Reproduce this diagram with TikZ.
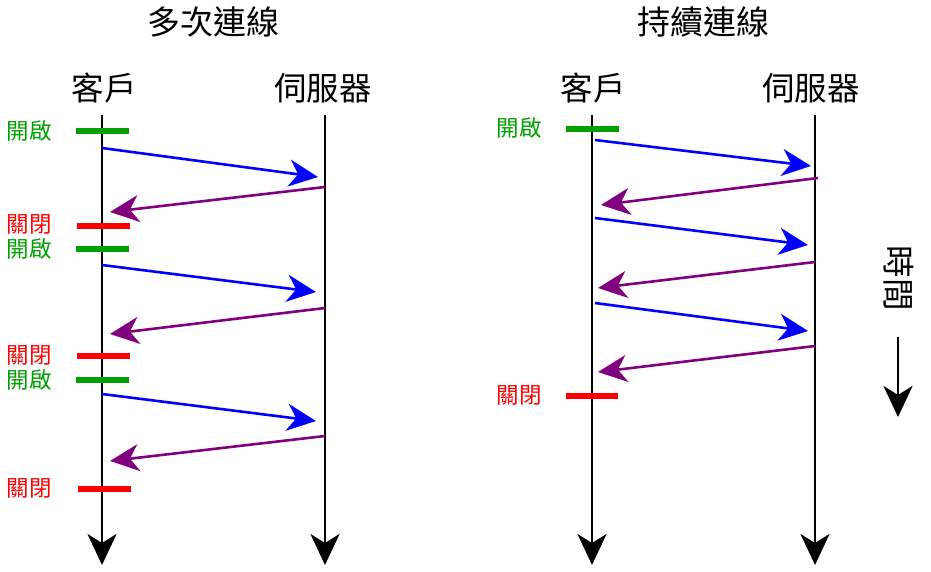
\documentclass[tikz,border=0pt]{standalone}
\usepackage{fontspec}
\newfontfamily\cjk{Noto Sans CJK TC}
\usetikzlibrary{arrows.meta}
\definecolor{ogreen}{RGB}{0,160,0}
\definecolor{opurple}{RGB}{128,0,128}
\tikzset{
  lifeline/.style={line width=2.8pt,-{Stealth[length=31pt,width=29pt,inset=9pt]}},
  msgreq/.style={blue,line width=2.6pt,-{Stealth[length=29pt,width=27pt,inset=9pt]}},
  msgresp/.style={opurple,line width=2.6pt,-{Stealth[length=29pt,width=27pt,inset=9pt]}},
  openbar/.style={ogreen,line width=5.5pt},
  closebar/.style={red,line width=5.5pt},
  titlelbl/.style={font=\cjk\fontsize{33}{33}\selectfont,inner sep=0pt},
  partlbl/.style={font=\cjk\fontsize{32.5}{33}\selectfont,inner sep=0pt},
  openlbl/.style={font=\cjk\fontsize{22.5}{22}\selectfont,text=ogreen,inner sep=0pt},
  closelbl/.style={font=\cjk\fontsize{22.5}{22}\selectfont,text=red,inner sep=0pt},
}
\begin{document}
\begin{tikzpicture}[x=1pt,y=-1pt]
\useasboundingbox[fill=white] (0,0) rectangle (931,572);
% ===== left panel =====
\node[titlelbl] (t1) at (213,22) {多次連線};
\node[partlbl] (c1) at (104,88) {客戶};
\node[partlbl] (s1) at (323,88) {伺服器};
\coordinate (c1top) at (102,115); \coordinate (c1bot) at (102,565);
\coordinate (s1top) at (325,115); \coordinate (s1bot) at (325,565);
\draw[lifeline] (c1top) -- (c1bot);
\draw[lifeline] (s1top) -- (s1bot);
% bars
\coordinate (o1a) at (76,131); \coordinate (o1b) at (129,131);
\coordinate (x1a) at (77,226); \coordinate (x1b) at (130,226);
\coordinate (o2a) at (76,249); \coordinate (o2b) at (129,249);
\coordinate (x2a) at (77,356); \coordinate (x2b) at (130,356);
\coordinate (o3a) at (76,380); \coordinate (o3b) at (129,380);
\coordinate (x3a) at (78,489); \coordinate (x3b) at (131,489);
\draw[openbar] (o1a) -- (o1b);
\draw[closebar] (x1a) -- (x1b);
\draw[openbar] (o2a) -- (o2b);
\draw[closebar] (x2a) -- (x2b);
\draw[openbar] (o3a) -- (o3b);
\draw[closebar] (x3a) -- (x3b);
\node[openlbl] (lo1) at (29,131) {開啟};
\node[closelbl] (lx1) at (29,224) {關閉};
\node[openlbl] (lo2) at (29,249) {開啟};
\node[closelbl] (lx2) at (29,355) {關閉};
\node[openlbl] (lo3) at (29,380) {開啟};
\node[closelbl] (lx3) at (29,488) {關閉};
% messages
\coordinate (q1a) at (102,148); \coordinate (q1b) at (318,177);
\coordinate (r1a) at (325,187); \coordinate (r1b) at (110,212);
\coordinate (q2a) at (102,265); \coordinate (q2b) at (316,292);
\coordinate (r2a) at (325,308); \coordinate (r2b) at (110,334);
\coordinate (q3a) at (102,394); \coordinate (q3b) at (316,421);
\coordinate (r3a) at (325,436); \coordinate (r3b) at (110,461);
\draw[msgreq] (q1a) -- (q1b);
\draw[msgresp] (r1a) -- (r1b);
\draw[msgreq] (q2a) -- (q2b);
\draw[msgresp] (r2a) -- (r2b);
\draw[msgreq] (q3a) -- (q3b);
\draw[msgresp] (r3a) -- (r3b);
% ===== right panel =====
\node[titlelbl] (t2) at (703,22) {持續連線};
\node[partlbl] (c2) at (593,88) {客戶};
\node[partlbl] (s2) at (811,88) {伺服器};
\coordinate (c2top) at (592,115); \coordinate (c2bot) at (592,565);
\coordinate (s2top) at (815,115); \coordinate (s2bot) at (815,565);
\draw[lifeline] (c2top) -- (c2bot);
\draw[lifeline] (s2top) -- (s2bot);
\coordinate (o4a) at (566,129); \coordinate (o4b) at (619,129);
\coordinate (x4a) at (566,396); \coordinate (x4b) at (618,396);
\draw[openbar] (o4a) -- (o4b);
\draw[closebar] (x4a) -- (x4b);
\node[openlbl] (lo4) at (519,128) {開啟};
\node[closelbl] (lx4) at (519,395) {關閉};
\coordinate (q4a) at (595,140); \coordinate (q4b) at (811,166);
\coordinate (r4a) at (818,178); \coordinate (r4b) at (601,205);
\coordinate (q5a) at (595,218); \coordinate (q5b) at (808,245);
\coordinate (r5a) at (815,262); \coordinate (r5b) at (598,288);
\coordinate (q6a) at (595,303); \coordinate (q6b) at (808,331);
\coordinate (r6a) at (815,346); \coordinate (r6b) at (598,372);
\draw[msgreq] (q4a) -- (q4b);
\draw[msgresp] (r4a) -- (r4b);
\draw[msgreq] (q5a) -- (q5b);
\draw[msgresp] (r5a) -- (r5b);
\draw[msgreq] (q6a) -- (q6b);
\draw[msgresp] (r6a) -- (r6b);
% time
\node[partlbl,rotate=-90] (tm) at (899,278) {時間};
\coordinate (ta) at (898,337); \coordinate (tb) at (898,417);
\draw[lifeline] (ta) -- (tb);
\end{tikzpicture}
\end{document}
